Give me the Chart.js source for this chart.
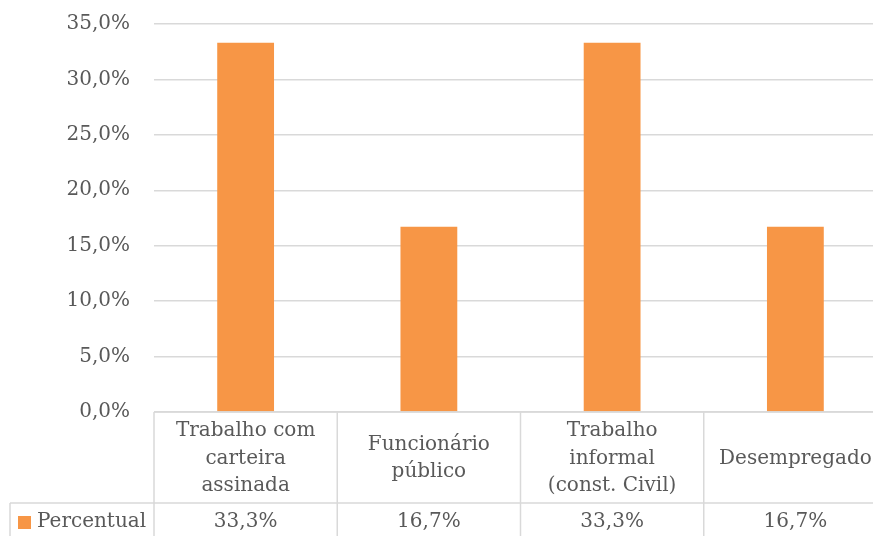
<!DOCTYPE html>
<html>
<head>
<meta charset="utf-8">
<script src="https://cdn.jsdelivr.net/npm/chart.js@4.4.1/dist/chart.umd.min.js"></script>
<style>
  html, body { margin: 0; padding: 0; background: #fff; }
  .wrap { width: 873px; height: 536px; overflow: hidden; position: relative; }
  canvas { display: block; }
</style>
</head>
<body>
<div class="wrap">
  <canvas id="chart" width="890" height="536"></canvas>
</div>
<script>
// categories (multi-line as in the data table)
const categories = [
  ['Trabalho com', 'carteira', 'assinada'],
  ['Funcionário', 'público'],
  ['Trabalho', 'informal', '(const. Civil)'],
  ['Desempregado']
];
const seriesName = 'Percentual';
const percentual = [33.3, 16.7, 33.3, 16.7];
const yTicks = [0, 5, 10, 15, 20, 25, 30, 35];

const textColor = '#595959';
const lineColor = '#d9d9d9';
const barColor = '#f79646';
const fontFamily = '"DejaVu Serif", serif';

function fmt(v) {
  return v.toFixed(1).replace('.', ',') + '%';
}

// draws the data table below the plot (Excel style)
const dataTable = {
  id: 'dataTable',
  afterDraw(chart) {
    const ctx = chart.ctx;
    const xs = chart.scales.x;
    const area = chart.chartArea;
    const n = categories.length;
    const w = (xs.right - xs.left) / n;
    const rowTop = area.bottom;
    const rowMid = 503;
    const bottom = 545;

    ctx.save();
    ctx.strokeStyle = lineColor;
    ctx.lineWidth = 1.5;

    // horizontal lines
    ctx.beginPath();
    ctx.moveTo(xs.left, rowTop);
    ctx.lineTo(xs.right, rowTop);
    ctx.moveTo(10, rowMid);
    ctx.lineTo(xs.right, rowMid);
    ctx.stroke();

    // vertical lines
    ctx.beginPath();
    for (let i = 0; i <= n; i++) {
      const x = xs.left + i * w;
      ctx.moveTo(x, rowTop);
      ctx.lineTo(x, bottom);
    }
    ctx.moveTo(10, rowMid);
    ctx.lineTo(10, bottom);
    ctx.stroke();

    ctx.fillStyle = textColor;
    ctx.font = '20px ' + fontFamily;
    ctx.textAlign = 'center';
    ctx.textBaseline = 'middle';

    const lh = 27.5;
    categories.forEach((lines, i) => {
      const cx = xs.getPixelForValue(i);
      const cy = (rowTop + rowMid) / 2 + 1;
      const y0 = cy - (lines.length - 1) * lh / 2;
      lines.forEach((t, j) => ctx.fillText(t, cx, y0 + j * lh));
      ctx.fillText(fmt(percentual[i]), cx, 522);
    });

    // legend key
    ctx.fillStyle = barColor;
    ctx.fillRect(18, 516, 13, 13);
    ctx.fillStyle = textColor;
    ctx.textAlign = 'left';
    ctx.fillText(seriesName, 37, 522);
    ctx.restore();
  }
};

new Chart(document.getElementById('chart'), {
  type: 'bar',
  data: {
    labels: categories,
    datasets: [{
      label: seriesName,
      data: percentual,
      backgroundColor: barColor,
      barPercentage: 0.31,
      categoryPercentage: 1
    }]
  },
  options: {
    responsive: false,
    animation: false,
    layout: { padding: { top: 24, right: 3, bottom: 124, left: 0 } },
    scales: {
      x: {
        display: false
      },
      y: {
        min: 0,
        max: 35,
        afterFit(scale) {
          scale.width = 154;
          scale.paddingTop = 0;
          scale.paddingBottom = 0;
        },
        afterBuildTicks(scale) { scale.ticks = yTicks.map(v => ({ value: v })); },
        border: { display: false },
        grid: { color: lineColor, lineWidth: 1.5, drawTicks: false },
        ticks: {
          padding: 24,
          color: textColor,
          font: { family: fontFamily, size: 20 },
          callback: v => fmt(v)
        }
      }
    },
    plugins: {
      legend: { display: false },
      tooltip: { enabled: false }
    }
  },
  plugins: [dataTable]
});
</script>
</body>
</html>
